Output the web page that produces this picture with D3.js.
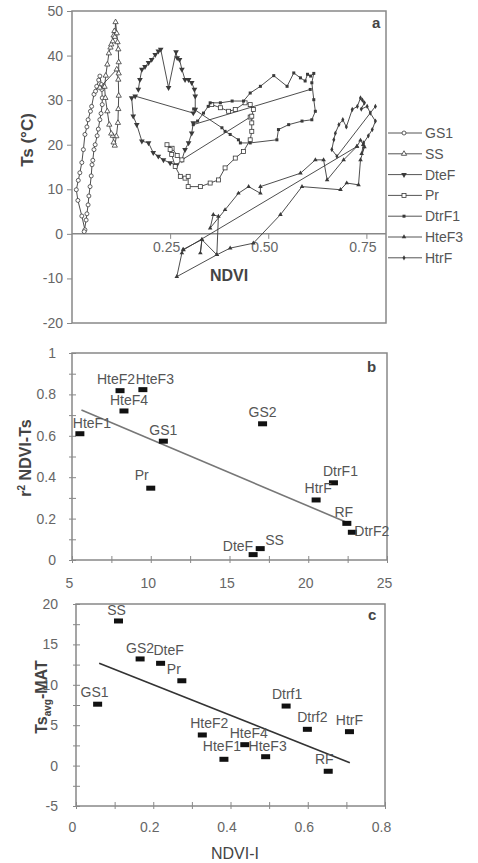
<!DOCTYPE html>
<html>
<head>
<meta charset="utf-8">
<script src="https://cdn.jsdelivr.net/npm/d3@7"></script>
<style>
  body { margin: 0; background: #fff; }
  svg { font-family: "Liberation Sans", Arial, sans-serif; }
  .tick text { fill: #666; font-size: 14px; }
  .domain, .tick line { stroke: #888; }
</style>
</head>
<body>
<script>

// ---------- panel a: NDVI vs Ts trajectories [ndvi, ts] ----------
var gs1 = [[0.033,0.9],[0.025,4],[0.015,7.5],[0.011,9.9],[0.016,12],[0.02,13.7],[0.025,16],[0.029,18.9],
  [0.033,22.3],[0.038,24],[0.041,25.6],[0.047,27.5],[0.05,28.6],[0.056,31.3],[0.06,32],[0.063,33.1],
  [0.068,34.5],[0.071,35.4],[0.075,33.5],[0.076,32.4],[0.077,30.5],[0.077,29],[0.074,27],[0.071,25.6],
  [0.067,23.5],[0.064,22],[0.059,20],[0.056,18.9],[0.053,16.5],[0.051,15.5],[0.049,13],[0.046,10.6],
  [0.043,8.5],[0.041,6.5],[0.038,4.5],[0.036,3.1],[0.031,0.5]];

var ss = [[0.071,32.8],[0.114,36.9],[0.118,34.6],[0.119,31],[0.118,28],[0.117,24.9],[0.113,21.9],
  [0.109,19.8],[0.106,20.5],[0.104,22],[0.1,22.5],[0.095,24.5],[0.09,27.5],[0.085,30.5],[0.083,33],
  [0.086,35.5],[0.09,38],[0.094,40.5],[0.098,41.8],[0.1,42.5],[0.104,43.2],[0.106,44.5],[0.108,45.5],
  [0.109,44.2],[0.111,47.5],[0.114,45],[0.116,43],[0.118,41.4],[0.119,38.5],[0.119,36]];

var dteF = [[0.169,32.4],[0.173,34.6],[0.178,36.9],[0.186,37.5],[0.195,38.4],[0.203,39.1],[0.212,40.2],
  [0.22,41],[0.226,41.4],[0.246,32.8],[0.265,40.8],[0.268,39.5],[0.274,39.1],[0.28,36.9],[0.288,34.6],
  [0.297,34.6],[0.305,33.9],[0.312,32.4],[0.314,30.9],[0.314,27.9],[0.309,27.1],[0.161,30.9],
  [0.152,30.5],[0.156,26.4],[0.165,24.5],[0.178,20.8],[0.195,20.4],[0.207,18.2],[0.22,17.4],
  [0.233,16.6],[0.25,15.9],[0.267,15.5],[0.28,16.6],[0.288,18.9],[0.297,20.4],[0.305,22.6],[0.309,24.9]];

var pr = [[0.454,26.2],[0.28,16.6],[0.268,17.6],[0.255,19.2],[0.242,20],[0.25,18.9],[0.254,17.8],
  [0.263,15.1],[0.276,12.9],[0.288,12.5],[0.296,12.9],[0.296,10.6],[0.327,10.6],[0.352,11.4],
  [0.373,12.1],[0.39,14.8],[0.416,17],[0.437,18.5],[0.454,21.1],[0.458,23],[0.458,24.9],[0.458,26.4],
  [0.462,27.9],[0.454,29],[0.441,29.4],[0.416,27.9],[0.399,27.5],[0.378,28.3],[0.356,29]];

var dtrF1 = [[0.607,32.4],[0.309,24.5],[0.32,25.3],[0.335,27.1],[0.347,28.6],[0.352,29.4],[0.378,29.4],
  [0.408,29.8],[0.437,29.8],[0.454,31.6],[0.48,33.1],[0.514,35.5],[0.548,33.1],[0.565,36.1],
  [0.582,35],[0.594,34.3],[0.6,35.8],[0.608,35.4],[0.616,36],[0.611,33.9],[0.616,30.1],[0.62,27.5],
  [0.611,25.6],[0.586,25.3],[0.552,24.5],[0.526,23.4],[0.522,21.1],[0.454,20.4],[0.429,20.4],
  [0.424,21.1],[0.403,22.3],[0.39,23],[0.382,23.8],[0.31,28]];

var hteF3 = [[0.283,-3.5],[0.331,-1.3],[0.327,-4.3],[0.331,-1.3],[0.369,-4.7],[0.373,3.9],[0.36,4.3],
  [0.352,1.3],[0.39,5.4],[0.424,9.1],[0.45,10.6],[0.48,9.1],[0.48,10.6],[0.582,13.6],[0.62,16.6],
  [0.641,16.6],[0.65,12.1],[0.692,16.6],[0.726,19.6],[0.735,21],[0.742,20],[0.738,18],[0.745,19.5],
  [0.735,16.6],[0.73,11],[0.70,11.4],[0.684,9.9],[0.586,10.6],[0.531,4.3],[0.462,-2.1],[0.403,-3.2],
  [0.369,-4.7],[0.267,-9.6],[0.28,-4.3],[0.284,-3.6],[0.726,19.6]];

var htrF = [[0.773,28.6],[0.675,17.4],[0.662,18.9],[0.667,21.1],[0.671,22.6],[0.68,24.5],[0.69,25.6],
  [0.699,24],[0.714,27.9],[0.727,28.6],[0.735,30.5],[0.74,30],[0.745,29.4],[0.737,28],[0.752,28.6],
  [0.76,27.1],[0.773,25.3],[0.765,23.4],[0.755,22],[0.743,20.4]];

var seriesNames = ["GS1", "SS", "DteF", "Pr", "DtrF1", "HteF3", "HtrF"];
var seriesData = [gs1, ss, dteF, pr, dtrF1, hteF3, htrF];

// ---------- panel b ----------
var bSites = ["HteF1","HteF2","HteF3","HteF4","GS1","Pr","GS2","DtrF1","HtrF","RF","DtrF2","DteF","SS"];
var bX     = [5.5, 8.05, 9.5, 8.3, 10.8, 10.0, 17.1, 21.6, 20.5, 22.45, 22.8, 16.5, 16.95];
var bR2    = [0.61, 0.818, 0.823, 0.72, 0.574, 0.347, 0.658, 0.373, 0.29, 0.177, 0.134, 0.026, 0.055];
var bTrend = [[5.6, 0.725], [22.5, 0.18]];

// ---------- panel c ----------
var cSites = ["SS","GS2","DteF","Pr","GS1","Dtrf1","Dtrf2","HtrF","HteF2","HteF4","HteF1","HteF3","RF"];
var cNdviI = [0.11, 0.166, 0.219, 0.274, 0.056, 0.544, 0.599, 0.708, 0.327, 0.437, 0.383, 0.491, 0.653];
var cTsMat = [17.9, 13.2, 12.66, 10.5, 7.6, 7.37, 4.49, 4.2, 3.79, 2.59, 0.78, 1.1, -0.7];
var cTrend = [[0.06, 12.66], [0.709, 0.36]];

var svg = d3.select("body").append("svg")
  .attr("width", 478)
  .attr("height", 863);

var ink = "#3a3a3a";
var plain = function(d) { return String(d); };   // keep the hyphen minus of the original

// marker drawing for panel a
function marker(g, kind, x, y) {
  if (kind === "circle") {
    g.append("circle").attr("cx", x).attr("cy", y).attr("r", 2)
      .attr("fill", "#fff").attr("stroke", ink).attr("stroke-width", 0.8);
  } else if (kind === "square") {
    g.append("rect").attr("x", x - 2).attr("y", y - 2).attr("width", 4).attr("height", 4)
      .attr("fill", "#fff").attr("stroke", ink).attr("stroke-width", 0.8);
  } else if (kind === "tri") {
    g.append("path").attr("d", d3.symbol(d3.symbolTriangle, 12)())
      .attr("transform", "translate(" + x + "," + y + ")")
      .attr("fill", "#fff").attr("stroke", ink).attr("stroke-width", 0.8);
  } else if (kind === "itri") {
    g.append("path").attr("d", d3.symbol(d3.symbolTriangle, 14)())
      .attr("transform", "translate(" + x + "," + y + ") rotate(180)")
      .attr("fill", ink);
  } else if (kind === "fsq") {
    g.append("rect").attr("x", x - 1.5).attr("y", y - 1.5).attr("width", 3).attr("height", 3).attr("fill", ink);
  } else if (kind === "ftri") {
    g.append("path").attr("d", d3.symbol(d3.symbolTriangle, 9)())
      .attr("transform", "translate(" + x + "," + y + ")").attr("fill", ink);
  } else {
    g.append("path").attr("d", d3.symbol(d3.symbolDiamond, 8)())
      .attr("transform", "translate(" + x + "," + y + ")").attr("fill", ink);
  }
}
var kinds = ["circle", "tri", "itri", "square", "fsq", "ftri", "dot"];

/******************** Panel a ********************/
var ax = d3.scaleLinear().domain([0, 0.8]).range([72, 386]);
var ay = d3.scaleLinear().domain([-20, 50]).range([323, 11]);

svg.append("rect").attr("x", 72).attr("y", 11).attr("width", 314).attr("height", 312)
  .attr("fill", "none").attr("stroke", "#888").attr("stroke-width", 1.5);

svg.append("g")
  .attr("transform", "translate(72,0)")
  .call(d3.axisLeft(ay).tickValues(d3.range(-20, 51, 10)).tickFormat(plain).tickSize(5).tickPadding(4))
  .call(function(g) { g.select(".domain").remove(); });

svg.append("g")
  .attr("transform", "translate(0," + ay(0) + ")")
  .call(d3.axisBottom(ax).tickValues([0.25, 0.5, 0.75]).tickFormat(d3.format(".2f")).tickSize(5).tickPadding(3))
  .call(function(g) {
    g.select(".domain").attr("d", "M72,0H386").attr("stroke-width", 1.5);
    g.selectAll(".tick text").attr("dx", -4);
  });

var lineA = d3.line()
  .x(function(d) { return ax(d[0]); })
  .y(function(d) { return ay(d[1]); });

seriesData.forEach(function(s, i) {
  var g = svg.append("g");
  g.append("path").datum(s).attr("d", lineA)
    .attr("fill", "none").attr("stroke", ink).attr("stroke-width", 0.9);
  s.forEach(function(d) { marker(g, kinds[i], ax(d[0]), ay(d[1])); });
});

svg.append("text").attr("x", 229).attr("y", 281).attr("text-anchor", "middle")
  .style("font-size", "16px").style("font-weight", "bold").attr("fill", "#444").text("NDVI");
svg.append("text").attr("transform", "translate(33,140) rotate(-90)").attr("text-anchor", "middle")
  .style("font-size", "17px").style("font-weight", "bold").attr("fill", "#444").text("Ts (°C)");
svg.append("text").attr("x", 372).attr("y", 28)
  .style("font-size", "15px").style("font-weight", "bold").attr("fill", "#444").text("a");

// legend
var legend = svg.append("g");
seriesNames.forEach(function(n, i) {
  var yy = 133 + i * 20.8;
  legend.append("line").attr("x1", 388).attr("x2", 422).attr("y1", yy).attr("y2", yy)
    .attr("stroke", "#555").attr("stroke-width", 1);
  marker(legend, kinds[i], 404, yy);
  legend.append("text").attr("x", 425).attr("y", yy + 5).style("font-size", "14px")
    .attr("fill", "#555").text(n);
});

/******************** Panel b ********************/
var bx = d3.scaleLinear().domain([5, 25]).range([72, 387]);
var by = d3.scaleLinear().domain([0, 1]).range([560, 353]);

svg.append("rect").attr("x", 72).attr("y", 353).attr("width", 315).attr("height", 207)
  .attr("fill", "none").attr("stroke", "#888").attr("stroke-width", 1.5);

svg.append("g").attr("transform", "translate(72,0)")
  .call(d3.axisLeft(by).tickValues(d3.range(0, 1.01, 0.1)).tickSize(4).tickSizeOuter(0)
    .tickFormat(function(d) { var r = Math.round(d * 10); return r % 2 === 0 ? d3.format("~g")(r / 10) : ""; })
    .tickPadding(12))
  .call(function(g) { g.select(".domain").remove(); g.selectAll(".tick line").attr("x2", 4).attr("x1", -3); });

svg.append("g").attr("transform", "translate(0,560)")
  .call(d3.axisBottom(bx).tickValues(d3.range(5, 25.1, 2.5)).tickSize(4).tickSizeOuter(0)
    .tickFormat(function(d) { return d % 5 === 0 ? d : ""; }).tickPadding(14))
  .call(function(g) {
    g.select(".domain").remove();
    g.selectAll(".tick line").attr("y1", 3).attr("y2", -4);
    g.selectAll(".tick text").attr("dx", -3);
  });

svg.append("line")
  .attr("x1", bx(bTrend[0][0])).attr("y1", by(bTrend[0][1]))
  .attr("x2", bx(bTrend[1][0])).attr("y2", by(bTrend[1][1]))
  .attr("stroke", "#777").attr("stroke-width", 1.6);

// label offsets: [dx, dy, anchor]
var bLab = {
  HteF1: [12, -6, "middle"], HteF2: [-4, -7, "middle"], HteF3: [12, -6, "middle"],
  HteF4: [5, -6, "middle"], GS1: [0, -6, "middle"], Pr: [-9, -8, "middle"], GS2: [0, -7, "middle"],
  DtrF1: [7, -7, "middle"], HtrF: [2, -7, "middle"], RF: [-3, -6, "middle"],
  DtrF2: [2, 4, "start"], DteF: [0, -4, "end"], SS: [5, -4, "start"]
};
bSites.forEach(function(n, i) {
  var px = bx(bX[i]), py = by(bR2[i]);
  svg.append("rect").attr("x", px - 4.5).attr("y", py - 2.5).attr("width", 9).attr("height", 5).attr("fill", "#111");
  var o = bLab[n];
  svg.append("text").attr("x", px + o[0]).attr("y", py + o[1]).attr("text-anchor", o[2])
    .style("font-size", "14px").attr("fill", "#555").text(n);
});

svg.append("text").attr("transform", "translate(31,458) rotate(-90)").attr("text-anchor", "middle")
  .style("font-size", "16px").style("font-weight", "bold").attr("fill", "#444")
  .call(function(t) {
    t.append("tspan").text("r");
    t.append("tspan").attr("dy", -6).style("font-size", "10px").text("2");
    t.append("tspan").attr("dy", 6).text(" NDVI-Ts");
  });
svg.append("text").attr("x", 367).attr("y", 372)
  .style("font-size", "15px").style("font-weight", "bold").attr("fill", "#444").text("b");

/******************** Panel c ********************/
var cx = d3.scaleLinear().domain([0, 0.8]).range([76, 385]);
var cy = d3.scaleLinear().domain([-5, 20]).range([806, 604]);

svg.append("rect").attr("x", 76).attr("y", 604).attr("width", 309).attr("height", 202)
  .attr("fill", "none").attr("stroke", "#888").attr("stroke-width", 1.5);

svg.append("g").attr("transform", "translate(76,0)")
  .call(d3.axisLeft(cy).tickValues(d3.range(-5, 20.1, 2.5)).tickSize(4).tickSizeOuter(0)
    .tickFormat(function(d) { return d % 5 === 0 ? String(d) : ""; }).tickPadding(14))
  .call(function(g) { g.select(".domain").remove(); g.selectAll(".tick line").attr("x2", 4).attr("x1", -3); });

svg.append("g").attr("transform", "translate(0,806)")
  .call(d3.axisBottom(cx).tickValues(d3.range(0, 0.81, 0.1)).tickSize(4).tickSizeOuter(0)
    .tickFormat(function(d) { var r = Math.round(d * 10); return r % 2 === 0 ? d3.format("~g")(r / 10) : ""; })
    .tickPadding(12))
  .call(function(g) {
    g.select(".domain").remove();
    g.selectAll(".tick line").attr("y1", 3).attr("y2", -4);
    g.selectAll(".tick text").attr("dx", -4);
  });

svg.append("line")
  .attr("x1", cx(cTrend[0][0])).attr("y1", cy(cTrend[0][1]))
  .attr("x2", cx(cTrend[1][0])).attr("y2", cy(cTrend[1][1]))
  .attr("stroke", "#333").attr("stroke-width", 1.6);

var cLab = {
  SS: [-2, -6], GS2: [0, -6], DteF: [8, -8], Pr: [-8, -7], GS1: [-3, -7], Dtrf1: [1, -7],
  Dtrf2: [5, -7], HtrF: [0, -7], HteF2: [7, -7], HteF4: [4, -7], HteF1: [-2, -8], HteF3: [2, -6], RF: [-4, -7]
};
cSites.forEach(function(n, i) {
  var px = cx(cNdviI[i]), py = cy(cTsMat[i]);
  svg.append("rect").attr("x", px - 4.5).attr("y", py - 2.5).attr("width", 9).attr("height", 5).attr("fill", "#111");
  var o = cLab[n];
  svg.append("text").attr("x", px + o[0]).attr("y", py + o[1]).attr("text-anchor", "middle")
    .style("font-size", "14px").attr("fill", "#555").text(n);
});

svg.append("text").attr("transform", "translate(47,697) rotate(-90)").attr("text-anchor", "middle")
  .style("font-size", "16px").style("font-weight", "bold").attr("fill", "#444")
  .call(function(t) {
    t.append("tspan").text("Ts");
    t.append("tspan").attr("dy", 4).style("font-size", "10px").text("avg");
    t.append("tspan").attr("dy", -4).text("-MAT");
  });
svg.append("text").attr("x", 235).attr("y", 859).attr("text-anchor", "middle")
  .style("font-size", "16px").attr("fill", "#444").text("NDVI-I");
svg.append("text").attr("x", 368).attr("y", 620)
  .style("font-size", "15px").style("font-weight", "bold").attr("fill", "#444").text("c");

</script>
</body>
</html>
